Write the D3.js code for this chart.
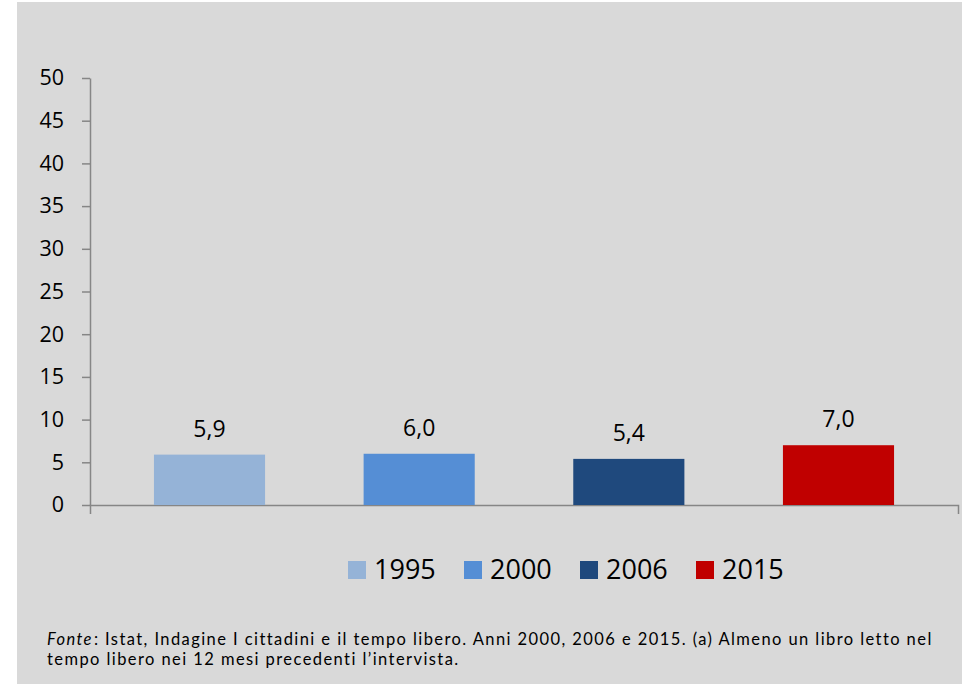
<!DOCTYPE html>
<html lang="it">
  <head>
    <meta charset="UTF-8" />
    <title>Lettori di libri</title>
    <script src="https://d3js.org/d3.v7.min.js"></script>
    <style>
      body {
        margin: 0;
        padding: 0;
        background: #fff;
        font-family: "Open Sans", Arial, sans-serif;
      }
      .axis path,
      .axis line {
        stroke: #868686;
        stroke-width: 1.5;
      }
      .axis text {
        font-family: "Open Sans", Arial, sans-serif;
        font-size: 21.5px;
        fill: #000;
      }
      .note {
        font-family: Lato, "Open Sans", sans-serif;
        font-size: 16.5px;
      }
    </style>
  </head>
  <body>
    <div id="chart"></div>
    <script>
      const years = ["1995", "2000", "2006", "2015"];
      const values = [5.9, 6.0, 5.4, 7.0];
      const colors = ["#95b3d7", "#558ed5", "#1f497d", "#c00000"];
      const yTicks = [0, 5, 10, 15, 20, 25, 30, 35, 40, 45, 50];
      const noteLine1 =
        ":  Istat, Indagine I cittadini e il tempo libero. Anni 2000, 2006 e 2015. (a) Almeno un libro letto nel";
      const noteLine2 = "tempo libero nei 12 mesi precedenti l\u2019intervista.";

      const width = 963;
      const height = 684;

      const svg = d3
        .select("#chart")
        .append("svg")
        .attr("width", width)
        .attr("height", height);

      // grey panel
      svg
        .append("rect")
        .attr("x", 17)
        .attr("y", 2)
        .attr("width", 945)
        .attr("height", 682)
        .attr("fill", "#d9d9d9");

      const x = d3
        .scaleBand()
        .domain(years)
        .range([90, 958])
        .paddingInner(0.47)
        .paddingOuter(0.305);

      const y = d3.scaleLinear().domain([0, 50]).range([505, 78]);

      // y axis
      svg
        .append("g")
        .attr("class", "axis")
        .attr("transform", "translate(90,0)")
        .call(
          d3
            .axisLeft(y)
            .tickValues(yTicks)
            .tickSize(8)
            .tickSizeOuter(0)
            .tickPadding(18)
        );

      // x axis: a single category, ticks at both ends
      const xCat = d3.scaleBand().domain([""]).range([90, 958]);
      svg
        .append("g")
        .attr("class", "axis")
        .attr("transform", "translate(0,505)")
        .call(d3.axisBottom(xCat).tickSize(0).tickSizeOuter(9).tickFormat(""));

      // bars
      svg
        .selectAll("rect.bar")
        .data(years)
        .enter()
        .append("rect")
        .attr("class", "bar")
        .attr("x", (d) => x(d))
        .attr("y", (d, i) => y(values[i]))
        .attr("width", x.bandwidth())
        .attr("height", (d, i) => y(0) - y(values[i]))
        .attr("fill", (d, i) => colors[i]);

      // value labels
      svg
        .selectAll("text.val")
        .data(years)
        .enter()
        .append("text")
        .attr("class", "val")
        .attr("x", (d) => x(d) + x.bandwidth() / 2)
        .attr("y", (d, i) => y(values[i]) - 18)
        .attr("text-anchor", "middle")
        .style("font-size", "23px")
        .text((d, i) => values[i].toFixed(1).replace(".", ","));

      // legend
      const legend = svg
        .selectAll("g.leg")
        .data(years)
        .enter()
        .append("g")
        .attr("class", "leg")
        .attr("transform", (d, i) => `translate(${348 + i * 116}, 561)`);

      legend
        .append("rect")
        .attr("width", 18)
        .attr("height", 18)
        .attr("fill", (d, i) => colors[i]);

      legend
        .append("text")
        .attr("x", 26)
        .attr("y", 18)
        .style("font-size", "27px")
        .text((d) => d);

      // note (spread so the first line spans like the original)
      const fonte = svg
        .append("text")
        .attr("class", "note")
        .attr("x", 47)
        .attr("y", 645)
        .style("font-style", "italic")
        .text("Fonte");
      const rest = svg
        .append("text")
        .attr("class", "note")
        .attr("y", 645)
        .text(noteLine1);
      const line2 = svg
        .append("text")
        .attr("class", "note")
        .attr("x", 47)
        .attr("y", 665)
        .text(noteLine2);

      const nChars = 5 + noteLine1.length;
      const natural =
        fonte.node().getComputedTextLength() + rest.node().getComputedTextLength();
      const ls = Math.max(0, (932 - 47 - natural) / nChars);
      fonte.style("letter-spacing", ls + "px");
      rest.style("letter-spacing", ls + "px");
      line2.style("letter-spacing", ls + "px");
      rest.attr("x", 47 + fonte.node().getComputedTextLength() + 1);
    </script>
  </body>
</html>
